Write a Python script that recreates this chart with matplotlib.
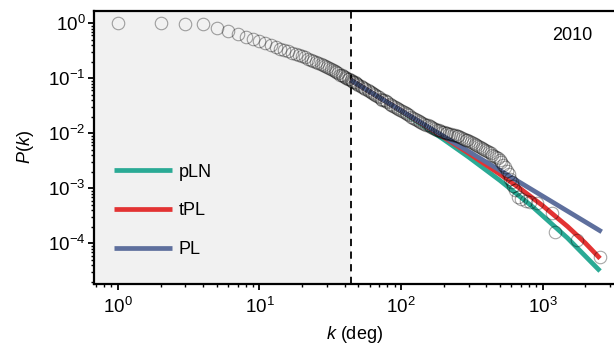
import matplotlib
matplotlib.use("Agg")
import matplotlib.pyplot as plt

plt.rcParams['font.family'] = ['Liberation Sans', 'DejaVu Sans']
plt.rcParams['mathtext.fontset'] = 'custom'
plt.rcParams['mathtext.rm'] = 'Liberation Sans'
plt.rcParams['mathtext.it'] = 'Liberation Sans:italic'
plt.rcParams['mathtext.bf'] = 'Liberation Sans:bold'

k_data = list(range(1, 45)) + [
    45, 46, 47, 48, 49, 50, 52, 53, 55, 56, 58, 59, 61, 62, 64, 66, 68, 70,
    72, 74, 76, 78, 80, 83, 85, 88, 90, 93, 96, 99, 102, 105, 108, 111, 114,
    118, 121, 125, 129, 133, 137, 141, 145, 150, 154, 159, 164, 169, 174, 179,
    185, 190, 196, 201, 207, 213, 220, 226, 233, 240, 247, 254, 262, 270, 278,
    286, 295, 303, 312, 321, 331, 340, 350, 361, 371, 382, 394, 405, 417, 430,
    443, 456, 469, 483, 497, 512, 527, 543, 560, 575, 590, 605, 619, 640, 671,
    700, 760, 820, 910, 1161, 1225, 1745, 2548]
p_data = [
    1.0, 1.0, 0.99, 0.966, 0.832, 0.730, 0.640, 0.570, 0.520, 0.468,
    0.430, 0.398, 0.371, 0.347, 0.327, 0.309, 0.292, 0.277, 0.263, 0.251,
    0.239, 0.229, 0.218, 0.209, 0.200, 0.190, 0.182, 0.174, 0.167, 0.161,
    0.155, 0.148, 0.141, 0.135, 0.129, 0.123, 0.117, 0.113, 0.108, 0.104,
    0.101, 0.0985, 0.0958, 0.0933,
    0.0902, 0.0871, 0.0842, 0.0814, 0.0787, 0.0762, 0.0716, 0.0695, 0.0655,
    0.0637, 0.0602, 0.0586, 0.0556, 0.0542, 0.0515, 0.0491, 0.0468, 0.0448,
    0.0429, 0.0411, 0.0395, 0.0379, 0.0365, 0.0345, 0.0332, 0.0315, 0.0305,
    0.0290, 0.0276, 0.0263, 0.0251, 0.0240, 0.0230, 0.0220, 0.0211, 0.0200,
    0.0193, 0.0183, 0.0174, 0.0166, 0.0159, 0.0154, 0.0149, 0.0144, 0.0139,
    0.0134, 0.0130, 0.0125, 0.0121, 0.0117, 0.0113, 0.0110, 0.0107, 0.0105,
    0.01025, 0.0100, 0.00977, 0.00957, 0.00935, 0.00914, 0.00894, 0.00875,
    0.00854, 0.00824, 0.00796, 0.00769, 0.00742, 0.00719, 0.00694, 0.00671,
    0.00643, 0.00618, 0.00592, 0.00565, 0.00543, 0.00520, 0.00497, 0.00477,
    0.00453, 0.00430, 0.00407, 0.00387, 0.00368, 0.00349, 0.00332, 0.00307,
    0.0027, 0.0024, 0.0021, 0.0018, 0.0015, 0.00128, 0.00108, 0.00092,
    0.00070, 0.00064, 0.00060, 0.00057, 0.00054, 0.000356, 0.000163,
    0.000115, 0.000057]

# ---- fitted models ----
k_pln = [44, 70, 100, 150, 200, 300, 500, 850, 1500, 2550]
p_pln = [0.0931, 0.0451, 0.0253, 0.0128, 0.00774, 0.00371, 0.00139,
         4.62e-4, 1.25e-4, 3.13e-5]
k_tpl = [44, 100, 200, 300, 500, 700, 1000, 1500, 2000, 2550]
p_tpl = [0.0931, 0.0258, 0.00851, 0.00436, 0.00180, 9.77e-4, 4.86e-4,
         2.03e-4, 1.02e-4, 5.30e-5]
k_pl = [44, 100, 200, 500, 1000, 2620]
p_pl = [0.093, 0.02595, 0.00883, 0.00212, 7.23e-4, 1.62e-4]

k_min = 44
year_label = "2010"

fig = plt.figure(figsize=(6.14, 3.47), dpi=100)
ax = fig.add_axes([94/614, (347-284)/347, (614-94)/614, (284-11)/347])

ax.set_xscale('log')
ax.set_yscale('log')
ax.set_xlim(0.677, 3200)
ax.set_ylim(1.82e-5, 1.673)

ax.axvspan(0.677, k_min, color='#f1f1f1', zorder=0, lw=0)
ax.axvline(k_min, color='black', ls=(0, (4, 3)), lw=1.3, zorder=1)

ax.plot(k_pln, p_pln, color='#2aaa95', lw=3.4, label='pLN', zorder=2,
        solid_capstyle='butt')
ax.plot(k_tpl, p_tpl, color='#e33333', lw=3.4, label='tPL', zorder=3,
        solid_capstyle='butt')
ax.plot(k_pl, p_pl, color='#5e6f9d', lw=3.4, label='PL', zorder=4,
        solid_capstyle='butt')

ax.plot(k_data, p_data, ls='none', marker='o', ms=9, mfc='none',
        mec=(0, 0, 0, 0.35), mew=0.8, zorder=5)

ax.text(0.919, 0.912, year_label, transform=ax.transAxes, ha='center',
        va='center', fontsize=13)

leg = ax.legend(loc='upper left', bbox_to_anchor=(20/520, 0.441),
                frameon=False, fontsize=13, handlelength=3.2,
                handletextpad=0.4, labelspacing=1.2, borderpad=0,
                borderaxespad=0)

ax.set_ylabel('$P(k)$', fontsize=13, labelpad=9)
ax.set_xlabel('$k$ (deg)', fontsize=13, labelpad=5)

for s in ['left', 'top', 'bottom']:
    ax.spines[s].set_linewidth(1.6)
ax.spines['right'].set_visible(False)
ax.tick_params(which='major', direction='out', length=4, width=1.3,
               labelsize=13.5, top=False, right=False)
ax.tick_params(which='minor', direction='out', length=2.5, width=1.0,
               top=False, right=False)
ax.tick_params(axis='x', which='major', pad=5)
ax.tick_params(axis='y', which='major', pad=2)

fig.savefig('out.png', dpi=100)
